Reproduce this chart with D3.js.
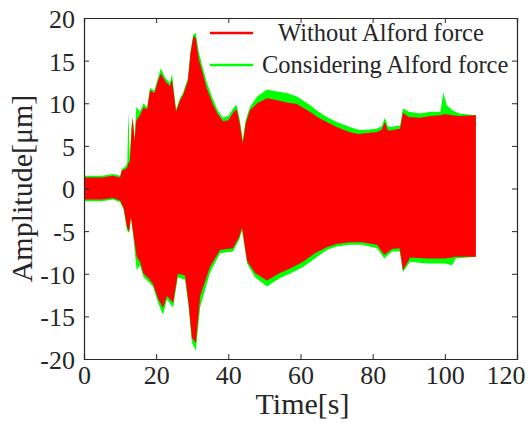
<!DOCTYPE html>
<html><head><meta charset="utf-8">
<script src="https://cdn.jsdelivr.net/npm/d3@7"></script>
<style>body{margin:0;background:#fff}svg{display:block}text{font-family:"Liberation Serif","Times New Roman",serif;fill:#262626}</style>
</head><body><svg id="c" width="531" height="424"></svg>
<script>
// ---- data ----
const xTicks = [0, 20, 40, 60, 80, 100, 120];
const yTicks = [-20, -15, -10, -5, 0, 5, 10, 15, 20];
const seriesNames = ["Without Alford force", "Considering Alford force"];

const tUpper = [0,5,8,10,10.5,11.5,12,12.3,12.7,13.2,13.5,14,14.5,15.5,16.5,17.5,18.3,19.5,20.5,21.3,22.5,23.8,24.4,25.5,26.6,27.5,28.8,29.5,30.3,31,31.8,32.6,34,35.8,37,38.5,40,41.5,42.3,43.2,44,44.8,46,48,50.7,53,56.2,59,62.6,65,67.3,70,73.7,76,78.4,81,82.5,83.4,84.2,84.8,87.6,88.4,90,93.1,96,98.8,99.6,100.5,102,104,108.6];
const greenUpper = [1.5,1.5,1.7,1.5,2.3,2.6,3.0,9.0,3.5,7.5,8.0,6.0,9.6,9.0,10.0,9.5,11.8,11.5,13.0,14.1,13.0,12.4,13.4,9.3,10.6,11.3,13.0,16.0,18.1,18.2,16.0,14.7,12.5,10.4,9.2,8.3,8.5,9.5,9.8,8.0,5.7,8.0,9.6,10.8,11.6,11.4,11.2,10.8,9.8,9.0,8.4,7.8,7.2,6.9,6.9,7.0,7.3,8.3,7.3,7.2,7.4,9.4,9.0,8.8,9.0,9.0,11.3,9.8,9.2,8.8,8.6];
const redUpper = [1.3,1.3,1.5,1.3,2.1,2.3,2.5,3.0,3.2,7.0,8.4,5.5,8.0,8.6,9.5,9.3,11.5,11.2,12.6,13.5,12.6,12.0,12.8,9.0,10.3,11.0,12.6,15.8,17.9,17.6,15.2,14.0,11.8,9.8,8.8,7.9,8.0,9.0,9.3,7.5,5.3,7.6,9.2,10.0,10.6,10.4,10.1,9.9,9.0,8.3,7.8,7.2,6.6,6.4,6.5,6.6,6.9,7.8,6.8,6.8,7.0,8.9,8.4,8.3,8.5,8.6,8.7,8.7,8.6,8.5,8.6];

const tLower = [0,5,8,10,11,11.9,12.5,13,13.5,14.6,15.5,16.5,18,19.1,20.6,21.9,23,24.7,26,28,29,29.9,31,32.2,34.9,37.7,41.3,43,43.8,45.2,47.4,50.7,54.3,57,60.7,64,67.3,70,73.7,77,81.2,83.2,85.4,87.5,88.4,90.4,95,100,102,103,108.6];
const greenLower = [-1.5,-1.5,-1.3,-1.6,-2.5,-4.9,-5.2,-3.5,-5.0,-9.6,-9.0,-10.4,-11.0,-11.5,-13.5,-14.8,-13.0,-14.0,-10.4,-10.7,-14.0,-18.1,-19.0,-13.9,-9.9,-7.6,-7.4,-6.0,-4.9,-8.8,-10.4,-11.5,-10.5,-10.0,-9.2,-8.2,-7.2,-6.8,-6.6,-6.6,-7.0,-8.2,-7.4,-7.4,-9.8,-8.6,-8.8,-8.8,-9.0,-8.2,-8.0];
const redLower = [-1.3,-1.3,-1.1,-1.4,-2.3,-4.5,-5.1,-3.3,-4.8,-8.0,-8.6,-10.0,-10.6,-11.2,-13.0,-14.0,-12.6,-13.4,-10.0,-10.2,-13.5,-17.5,-18.1,-12.6,-9.2,-7.2,-7.0,-5.7,-4.6,-8.5,-9.9,-10.8,-9.9,-9.4,-8.6,-7.6,-6.9,-6.5,-6.3,-6.3,-6.6,-7.8,-7.1,-7.0,-9.6,-8.1,-8.2,-8.2,-8.1,-8.0,-8.0];

// ---- layout ----
const L = 84, R = 517, T = 18, B = 359;
const svg = d3.select("#c");
const x = d3.scaleLinear().domain([0, 120]).range([L, R]);
const y = d3.scaleLinear().domain([-20, 20]).range([B, T]);
const RED = "#ff0000", GREEN = "#00ff00";

function envelope(tu, up, tl, lo) {
  const pts = tu.map((t, i) => [t, up[i]]).concat(tl.map((t, i) => [t, lo[i]]).reverse());
  return d3.line().x(d => x(d[0])).y(d => y(d[1]))(pts) + "Z";
}
svg.append("path").attr("d", envelope(tUpper, greenUpper, tLower, greenLower)).attr("fill", GREEN);
svg.append("path").attr("d", envelope(tUpper, redUpper, tLower, redLower)).attr("fill", RED);

// axes box
const axisColor = "#262626";
const gB = svg.append("g").attr("transform", `translate(0,${B})`)
  .call(d3.axisBottom(x).tickValues(xTicks).tickSize(-5).tickFormat(d => d).tickPadding(6));
const gT = svg.append("g").attr("transform", `translate(0,${T})`)
  .call(d3.axisTop(x).tickValues(xTicks).tickSize(-5).tickFormat(""));
const gL = svg.append("g").attr("transform", `translate(${L},0)`)
  .call(d3.axisLeft(y).tickValues(yTicks).tickSize(-5).tickFormat(d => d < 0 ? "-" + Math.abs(d) : d).tickPadding(9));
const gR = svg.append("g").attr("transform", `translate(${R},0)`)
  .call(d3.axisRight(y).tickValues(yTicks).tickSize(-5).tickFormat(""));
[gB, gT, gL, gR].forEach(g => {
  g.select(".domain").attr("stroke", axisColor).attr("stroke-width", 1.2);
  g.selectAll(".tick line").attr("stroke", axisColor).attr("stroke-width", 1);
  g.selectAll("text").attr("font-family", null).attr("font-size", 26).style("fill", axisColor);
});
gB.selectAll(".tick text").attr("dy", "0.72em");
// last x label kept inside the figure, as in the reference
gB.selectAll(".tick").filter(d => d === 120).select("text").attr("text-anchor", "end").attr("x", 8);
gL.selectAll(".tick text").attr("dy", "0.36em");

// axis titles
svg.append("text").attr("x", (L + R) / 2 + 2).attr("y", 414).attr("text-anchor", "middle")
  .attr("font-size", 30).text("Time[s]");
svg.append("text").attr("transform", `translate(32,${(T + B) / 2}) rotate(-90)`).attr("text-anchor", "middle")
  .attr("font-size", 30).text("Amplitude[μm]");

// legend
const leg = [{name: seriesNames[0], color: RED, y: 33, tx: 278},
             {name: seriesNames[1], color: GREEN, y: 65, tx: 262}];
leg.forEach(d => {
  svg.append("line").attr("x1", 210).attr("x2", 253).attr("y1", d.y).attr("y2", d.y)
    .attr("stroke", d.color).attr("stroke-width", 2.5);
  svg.append("text").attr("x", d.tx).attr("y", d.y + 8).attr("font-size", 24.5).text(d.name);
});
</script></body></html>
